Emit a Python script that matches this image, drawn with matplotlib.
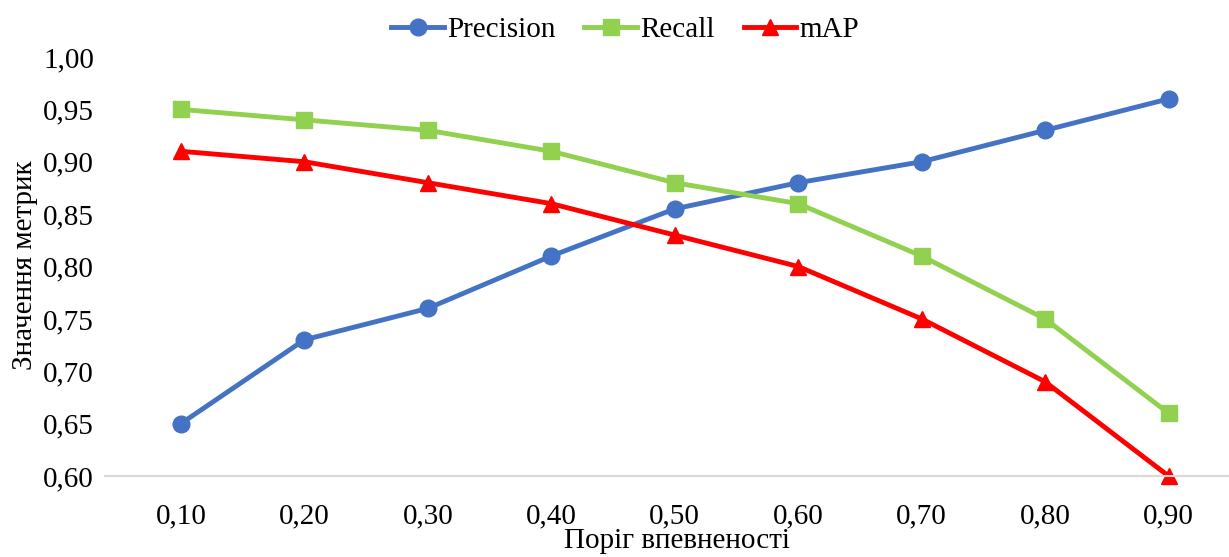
import numpy as np
import matplotlib
matplotlib.use('Agg')
import matplotlib.pyplot as plt

plt.rcParams['font.family'] = ['Liberation Serif', 'DejaVu Serif']

thresholds = ['0,10', '0,20', '0,30', '0,40', '0,50', '0,60', '0,70', '0,80', '0,90']
precision = [0.65, 0.73, 0.76, 0.81, 0.855, 0.88, 0.90, 0.93, 0.96]
recall = [0.95, 0.94, 0.93, 0.91, 0.88, 0.86, 0.81, 0.75, 0.66]
mAP = [0.91, 0.90, 0.88, 0.86, 0.83, 0.80, 0.75, 0.69, 0.60]
y_ticks = [0.60, 0.65, 0.70, 0.75, 0.80, 0.85, 0.90, 0.95, 1.00]

W, H = 1229, 557
fig = plt.figure(figsize=(W / 100, H / 100), dpi=100)
ax = fig.add_axes([105 / W, (H - 476) / H, 1 - 105 / W, (476 - 57) / H])

x = np.arange(len(thresholds))
ax.plot(x, precision, color='#4472C4', lw=3.5, marker='o', ms=12, label='Precision')
ax.plot(x, recall, color='#92D050', lw=3.5, marker='s', ms=11, label='Recall')
ax.plot(x, mAP, color='#FF0000', lw=3.5, marker='^', ms=12, label='mAP', clip_on=False)

ax.set_xlim(-0.615, 8.49)
ax.set_ylim(0.60, 1.00)
ax.set_xticks(x)
ax.set_xticklabels(thresholds, fontsize=21)
ax.set_yticks(y_ticks)
ax.set_yticklabels([f'{v:.2f}'.replace('.', ',') for v in y_ticks], fontsize=21)
ax.tick_params(axis='x', length=0, pad=20)
ax.tick_params(axis='y', length=0, pad=8)

for s in ['top', 'right', 'left']:
    ax.spines[s].set_visible(False)
ax.spines['bottom'].set_color('#D9D9D9')
ax.spines['bottom'].set_linewidth(1.5)

fig.text(677 / W, 1 - 541 / H, 'Поріг впевненості', fontsize=21, ha='center', va='center')
fig.text(25 / W, 1 - 265 / H, 'Значення метрик', fontsize=21, ha='center', va='center',
         rotation=90)

fig.legend(loc='center', bbox_to_anchor=(625 / W, 1 - 30 / H), ncol=3, frameon=False,
           fontsize=21, handlelength=1.8, handletextpad=0.1, columnspacing=1.0)

fig.savefig('out.png', dpi=100)
